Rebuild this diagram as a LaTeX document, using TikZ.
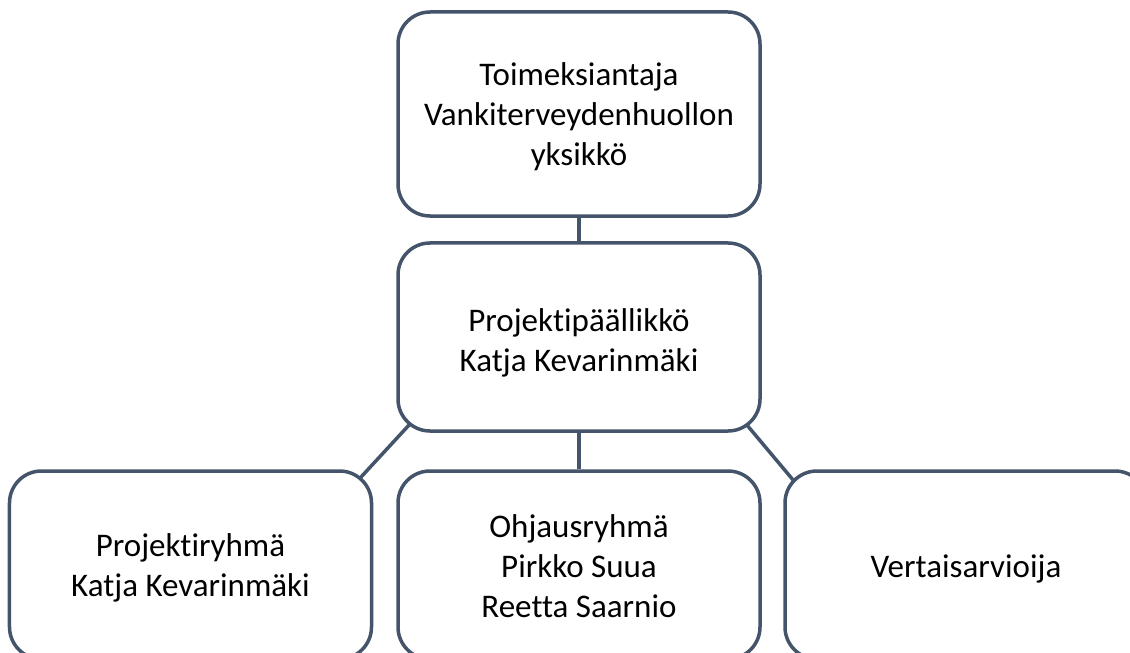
\documentclass[tikz,border=0pt]{standalone}
\usepackage{fontspec}
\setmainfont{Carlito}[Ligatures={NoCommon}]
\usetikzlibrary{calc,backgrounds}
\definecolor{boxline}{HTML}{44546A}
\tikzset{
  orgbox/.style={draw=boxline, line width=3.5bp, fill=white, rounded corners=32bp,
    rectangle, minimum width=362bp, inner sep=0pt},
  boxtext/.style={align=center, inner sep=0pt, text=black,
    font=\fontsize{33bp}{40bp}\selectfont},
  link/.style={draw=boxline, line width=3.5bp}
}
\begin{document}
\begin{tikzpicture}[x=1bp,y=-1bp]
\useasboundingbox (0,0) rectangle (1130,653);
\clip (0,0) rectangle (1130,653);
% nodes
\node[orgbox, minimum height=204bp,
  label={[boxtext, yshift=-3bp]center:Toimeksiantaja\\Vankiterveydenhuollon\\yksikkö}] (top) at (579,114) {};
\node[orgbox, minimum height=188bp,
  label={[boxtext, yshift=-6bp]center:Projektipäällikkö\\Katja Kevarinmäki}] (mid) at (579,337) {};
\node[orgbox, minimum height=188bp,
  label={[boxtext, yshift=-3bp]center:Projektiryhmä\\Katja Kevarinmäki}] (left) at (190.5,565) {};
\node[orgbox, minimum height=188bp,
  label={[boxtext, yshift=-1bp]center:Ohjausryhmä\\Pirkko Suua\\Reetta Saarnio}] (center) at (579,565) {};
\node[orgbox, minimum height=188bp,
  label={[boxtext, yshift=-4bp]center:Vertaisarvioija}] (right) at (966,565) {};
% connectors (behind boxes)
\begin{scope}[on background layer]
\fill[white] (0,0) rectangle (1130,653);
\draw[link] (top.south) -- (mid.north);
\draw[link] (mid.south) -- (center.north);
\draw[link] ($(mid.south west)+(24.1,-20)$) -- ($(left.north east)+(-23.5,20)$);
\draw[link] ($(mid.south east)+(-25.1,-20)$) -- ($(right.north west)+(17.6,20)$);
\end{scope}
\end{tikzpicture}
\end{document}
